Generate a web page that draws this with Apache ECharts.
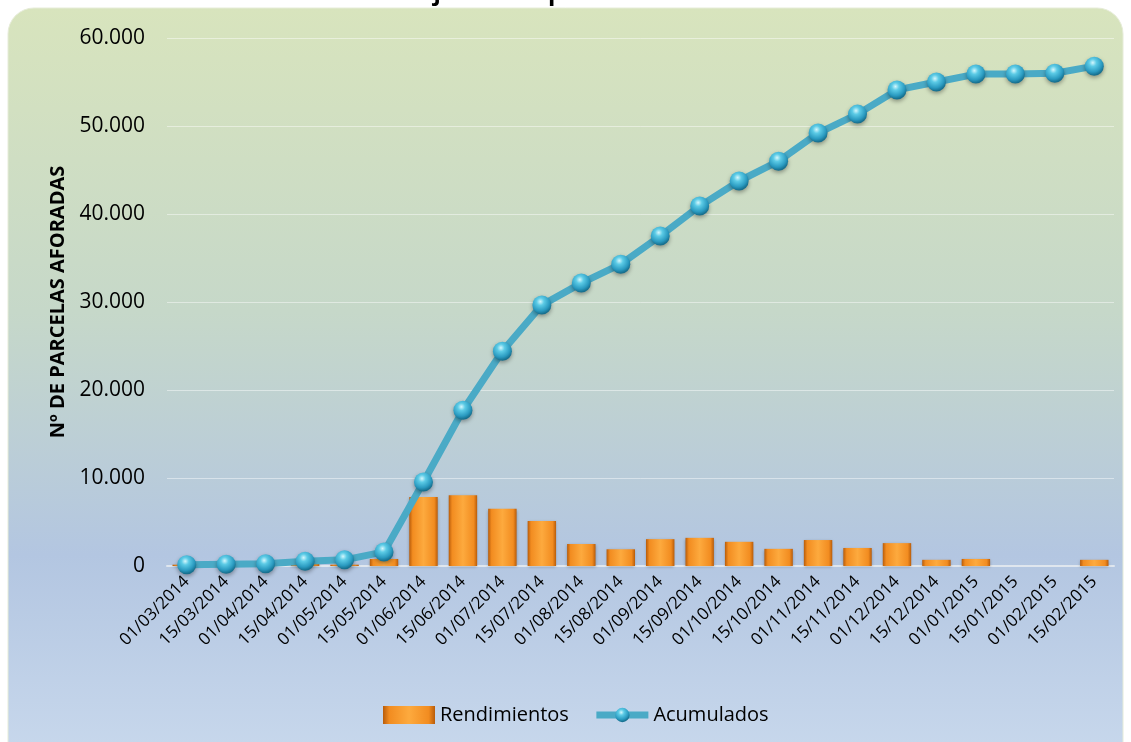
<!DOCTYPE html>
<html>
<head>
<meta charset="utf-8">
<script src="https://cdn.jsdelivr.net/npm/echarts@6/dist/echarts.min.js"></script>
<style>
html,body{margin:0;padding:0;background:#fff;}
#chart{width:1131px;height:742px;}
</style>
</head>
<body>
<div id="chart"></div>
<script>
var categories = ['01/03/2014','15/03/2014','01/04/2014','15/04/2014','01/05/2014','15/05/2014',
  '01/06/2014','15/06/2014','01/07/2014','15/07/2014','01/08/2014','15/08/2014',
  '01/09/2014','15/09/2014','01/10/2014','15/10/2014','01/11/2014','15/11/2014',
  '01/12/2014','15/12/2014','01/01/2015','15/01/2015','01/02/2015','15/02/2015'];
var rendimientos = [150, 50, 50, 300, 150, 800, 7850, 8050, 6500, 5100, 2500, 1900,
  3050, 3200, 2750, 1950, 2950, 2050, 2600, 700, 800, 0, -100, 700];
var acumulados = [150, 200, 250, 550, 700, 1600, 9550, 17700, 24400, 29650, 32150, 34300,
  37500, 40900, 43750, 46000, 49200, 51350, 54100, 55000, 55900, 55900, 56000, 56800];
var yTicks = {min: 0, max: 60000, interval: 10000};
var titleText = 'Evolución del trabajo de campo: Parcelas aforadas 2014-2015';
var seriesNames = ['Rendimientos', 'Acumulados'];
var yAxisName = 'Nº DE PARCELAS AFORADAS';

var chart = echarts.init(document.getElementById('chart'));
var fontFam = '"Open Sans", "Liberation Sans", sans-serif';
function fmt(v){ return String(v).replace(/\B(?=(\d{3})+(?!\d))/g, '.'); }

var option = {
  animation: false,
  backgroundColor: '#ffffff',
  graphic: [{
    type: 'rect', z: -10, silent: true,
    shape: {x: 8, y: 8, width: 1115, height: 760, r: 26},
    style: {
      fill: new echarts.graphic.LinearGradient(0, 0, 0, 1, [
        {offset: 0, color: '#d8e4bd'},
        {offset: 0.4, color: '#c6d8c9'},
        {offset: 0.72, color: '#b3c6e1'},
        {offset: 1, color: '#c9d9ed'}
      ]),
      stroke: '#e6ecd8', lineWidth: 1
    }
  }],
  title: {
    text: titleText, left: 'center', top: -24,
    textStyle: {fontFamily: fontFam, fontSize: 24, fontWeight: 'bold', color: '#000'}
  },
  grid: {left: 167, right: 17, top: 38, bottom: 176, containLabel: false},
  legend: {
    left: 378, top: 700, itemWidth: 52, itemHeight: 18, itemGap: 24,
    textStyle: {fontFamily: fontFam, fontSize: 20, color: '#000'},
    data: [
      {name: seriesNames[0], icon: 'rect'},
      {name: seriesNames[1], lineStyle: {width: 7, color: '#4aaac6'}}
    ]
  },
  xAxis: {
    type: 'category', data: categories,
    axisTick: {show: false},
    axisLine: {lineStyle: {color: '#dfe6ee', width: 2}},
    axisLabel: {interval: 0, rotate: 45, fontFamily: fontFam, fontSize: 17, color: '#000', margin: 13}
  },
  yAxis: {
    type: 'value', min: yTicks.min, max: yTicks.max, interval: yTicks.interval,
    name: yAxisName, nameLocation: 'middle', nameGap: 96, nameRotate: 90,
    nameTextStyle: {fontFamily: fontFam, fontSize: 20, fontWeight: 'bold', color: '#000'},
    axisLine: {show: false}, axisTick: {show: false},
    axisLabel: {fontFamily: fontFam, fontSize: 21, color: '#000', margin: 22, formatter: fmt},
    splitLine: {lineStyle: {color: 'rgba(255,255,255,0.45)', width: 1}}
  },
  series: [{
    name: seriesNames[0], type: 'bar', data: rendimientos,
    barCategoryGap: '28%',
    itemStyle: {
      color: new echarts.graphic.LinearGradient(0, 0, 1, 0, [
        {offset: 0, color: '#b85c0a'},
        {offset: 0.12, color: '#f28c20'},
        {offset: 0.5, color: '#fdaa3e'},
        {offset: 0.88, color: '#f28c20'},
        {offset: 1, color: '#b85c0a'}
      ]),
      borderWidth: 0,
      shadowColor: 'rgba(0,0,0,0.25)', shadowBlur: 3, shadowOffsetY: 1
    }
  }, {
    name: seriesNames[1], type: 'line', data: acumulados,
    symbol: 'circle', symbolSize: 19,
    lineStyle: {color: '#4aaac6', width: 7},
    itemStyle: {
      color: {
        type: 'radial', x: 0.42, y: 0.32, r: 0.65,
        colorStops: [
          {offset: 0, color: '#d4f7fd'},
          {offset: 0.3, color: '#5ccbe6'},
          {offset: 0.75, color: '#2a9ac0'},
          {offset: 1, color: '#17708f'}
        ]
      },
      borderWidth: 0,
      shadowColor: 'rgba(0,0,0,0.35)', shadowBlur: 4, shadowOffsetY: 2
    },
    z: 3
  }]
};
chart.setOption(option);
</script>
</body>
</html>
